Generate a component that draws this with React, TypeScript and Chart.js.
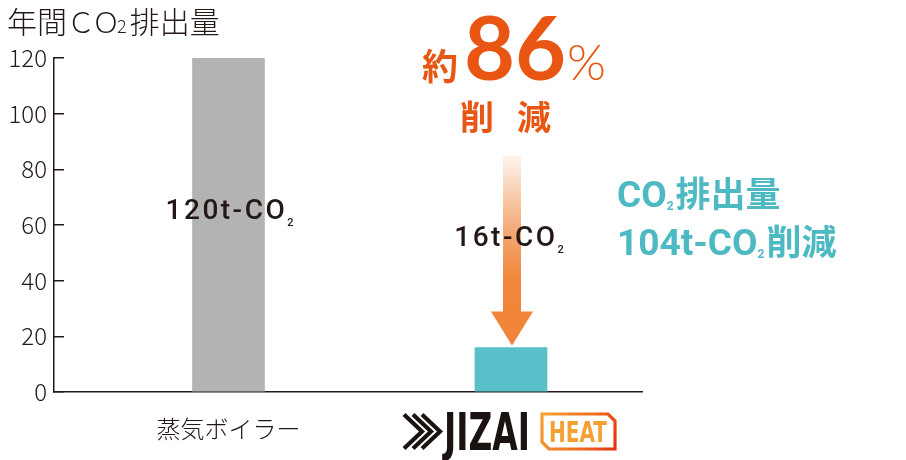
import { useEffect, useRef } from 'react';
import { Chart, registerables } from 'chart.js';

Chart.register(...registerables);

// ---- data ----
const categories = ['蒸気ボイラー', 'JIZAI HEAT'];
const categoryPositions = [1, 2];
const emissions = [120, 16];
const barColors = ['#B3B3B3', '#59BFC9'];
const yTickStep = 20;
const yMax = 120;
const unitText = 't-CO';

// ---- styles ----
const DARK = '#231815';
const ORANGE = '#E95513';
const TEAL = '#4CB9C3';
const JP = '"Noto Sans CJK JP", sans-serif';
const DIN = 'Roboto, "Noto Sans CJK JP", sans-serif';
const ROUND = 'Lato, "Noto Sans", sans-serif';
const NARROW = '"Liberation Sans Narrow", "DejaVu Sans Condensed", sans-serif';

type Run = { text: string; font: string; color: string; dy?: number; ls?: number; gap?: number };

function runsWidth(ctx: any, runs: Run[]) {
  let w = 0;
  for (const r of runs) {
    ctx.font = r.font;
    ctx.letterSpacing = (r.ls || 0) + 'px';
    w += ctx.measureText(r.text).width + (r.gap || 0);
  }
  return w;
}

function drawRuns(ctx: any, runs: Run[], x: number, y: number, align: 'left' | 'center') {
  ctx.save();
  ctx.textBaseline = 'alphabetic';
  ctx.textAlign = 'left';
  let cx = align === 'center' ? x - runsWidth(ctx, runs) / 2 : x;
  for (const r of runs) {
    ctx.font = r.font;
    ctx.letterSpacing = (r.ls || 0) + 'px';
    ctx.fillStyle = r.color;
    ctx.fillText(r.text, cx, y + (r.dy || 0));
    cx += ctx.measureText(r.text).width + (r.gap || 0);
  }
  ctx.letterSpacing = '0px';
  ctx.restore();
}

function fitText(ctx: any, text: string, font: string, fill: any, left: number, baseline: number, width: number) {
  ctx.save();
  ctx.font = font;
  ctx.textAlign = 'left';
  ctx.textBaseline = 'alphabetic';
  const w = ctx.measureText(text).width;
  ctx.translate(left, baseline);
  ctx.scale(width / w, 1);
  ctx.fillStyle = fill;
  ctx.fillText(text, 0, 0);
  ctx.restore();
}

function drawLogo(ctx: any, cx: number, top: number) {
  // chevron icon
  ctx.save();
  ctx.strokeStyle = '#1A1311';
  ctx.lineWidth = 4.2;
  ctx.lineJoin = 'miter';
  const apexY = top + 18.5;
  for (let i = 0; i < 3; i++) {
    const ax = cx - 71 - (2 - i) * 9;
    ctx.beginPath();
    ctx.moveTo(ax - 18, apexY - 17);
    ctx.lineTo(ax, apexY);
    ctx.lineTo(ax - 18, apexY + 17);
    ctx.stroke();
  }
  ctx.restore();
  // JIZAI
  fitText(ctx, 'JIZAI', `bold 51px ${NARROW}`, '#1A1311', cx - 67, top + 37, 86);
  // HEAT box
  const L = cx + 31, R = cx + 104, T = top + 1, B = top + 36;
  const g = ctx.createLinearGradient(L, T, R, B);
  g.addColorStop(0, '#F5A032');
  g.addColorStop(0.6, '#EE6A1E');
  g.addColorStop(1, '#E6330F');
  ctx.save();
  ctx.strokeStyle = g;
  ctx.lineWidth = 3.2;
  ctx.lineJoin = 'miter';
  ctx.beginPath();
  ctx.moveTo(L, T);
  ctx.lineTo(R - 7, T);
  ctx.lineTo(R, T + 7);
  ctx.lineTo(R, B);
  ctx.lineTo(L + 7, B);
  ctx.lineTo(L, B - 7);
  ctx.closePath();
  ctx.stroke();
  ctx.restore();
  fitText(ctx, 'HEAT', `bold 29px ${NARROW}`, g, L + 7, B - 7, 58);
}

const annotations = {
  id: 'annotations',
  afterDatasetsDraw(chart: any) {
    const { ctx, scales } = chart;
    const xs = scales.x;
    const ys = scales.y;
    const x0 = xs.getPixelForValue(categoryPositions[0]);
    const x1 = xs.getPixelForValue(categoryPositions[1]);
    const top1 = ys.getPixelForValue(emissions[1]);
    const reduction = emissions[0] - emissions[1];
    const pct = Math.floor((reduction / emissions[0]) * 100);

    // title
    drawRuns(ctx, [
      { text: '年間', font: `300 30px ${JP}`, color: DARK },
      { text: 'ＣＯ', font: `300 28px ${JP}`, color: DARK, ls: -3 },
      { text: '2', font: `300 18px ${JP}`, color: DARK, gap: 3 },
      { text: '排出量', font: `300 30px ${JP}`, color: DARK },
    ], 7, 33, 'left');

    // arrow
    const shaftTop = ys.getPixelForValue(85);
    const tipY = top1 - 2;
    const headH = 34, headW = 42, shaftW = 18;
    ctx.save();
    const g = ctx.createLinearGradient(0, shaftTop, 0, tipY - headH);
    g.addColorStop(0, '#FFF5EE');
    g.addColorStop(0.45, '#F5AC7C');
    g.addColorStop(0.8, '#F08738');
    g.addColorStop(1, '#F08537');
    ctx.fillStyle = g;
    ctx.fillRect(x1 - shaftW / 2 + 1, shaftTop, shaftW, tipY - headH - shaftTop + 1);
    ctx.fillStyle = '#F08537';
    ctx.beginPath();
    ctx.moveTo(x1 - headW / 2 + 1, tipY - headH);
    ctx.lineTo(x1 + headW / 2 + 1, tipY - headH);
    ctx.lineTo(x1 + 1, tipY);
    ctx.closePath();
    ctx.fill();
    ctx.restore();

    // bar value labels
    const valFont = `500 28px ${DIN}`;
    const subFont = `500 11px ${DIN}`;
    drawRuns(ctx, [
      { text: emissions[0] + unitText, font: valFont, color: DARK, ls: 2.5 },
      { text: '2', font: subFont, color: DARK, dy: 7 },
    ], x0 + 1, ys.getPixelForValue(62), 'center');
    drawRuns(ctx, [
      { text: emissions[1] + unitText, font: valFont, color: DARK, ls: 2.5 },
      { text: '2', font: subFont, color: DARK, dy: 7 },
    ], x1 - 2, ys.getPixelForValue(52.5), 'center');

    // 約86% 削減
    drawRuns(ctx, [
      { text: '約', font: `bold 36px ${JP}`, color: ORANGE, gap: 6 },
      { text: String(pct), font: `bold 88px ${ROUND}`, color: ORANGE, gap: 1 },
      { text: '%', font: `300 50px ${ROUND}`, color: ORANGE },
    ], x1 - 89, 80, 'left');
    ctx.save();
    ctx.font = `bold 34px ${JP}`;
    ctx.fillStyle = ORANGE;
    ctx.textAlign = 'center';
    ctx.textBaseline = 'alphabetic';
    ctx.fillText('削', x1 - 34, 130);
    ctx.fillText('減', x1 + 23, 130);
    ctx.restore();

    // teal note
    const tl = x1 + 106;
    drawRuns(ctx, [
      { text: 'CO', font: `bold 37px ${DIN}`, color: TEAL },
      { text: '2', font: `bold 12px ${DIN}`, color: TEAL, dy: 3, gap: 2 },
      { text: '排出量', font: `bold 35px ${JP}`, color: TEAL },
    ], tl, 207, 'left');
    drawRuns(ctx, [
      { text: reduction + unitText, font: `bold 37px ${DIN}`, color: TEAL },
      { text: '2', font: `bold 12px ${DIN}`, color: TEAL, dy: 3, gap: 2 },
      { text: '削減', font: `bold 35px ${JP}`, color: TEAL },
    ], tl, 255, 'left');

    // JIZAI HEAT logo (second category label)
    drawLogo(ctx, x1, chart.chartArea.bottom + 21);
  },
};

export default function App() {
  const ref = useRef<HTMLCanvasElement>(null);
  useEffect(() => {
    if (!ref.current) return;
    const chart = new Chart(ref.current, {
      type: 'bar',
      data: {
        datasets: [
          {
            data: categoryPositions.map((p, i) => ({ x: p, y: emissions[i] })),
            backgroundColor: barColors,
            barThickness: 72,
            borderWidth: 0,
          },
        ],
      },
      options: {
        animation: false,
        responsive: true,
        maintainAspectRatio: false,
        layout: { padding: { top: 58, right: 264, bottom: 0, left: 0 } },
        plugins: { legend: { display: false }, tooltip: { enabled: false }, title: { display: false } },
        scales: {
          x: {
            type: 'linear',
            offset: false,
            min: 0.3823,
            max: 2.4637,
            afterBuildTicks: (s: any) => {
              s.ticks = categoryPositions.map((v) => ({ value: v }));
            },
            ticks: {
              callback: (v: any) => (v === categoryPositions[0] ? categories[0] : ''),
              color: DARK,
              font: { family: JP, size: 24, weight: '300' },
              padding: 22,
              maxRotation: 0,
              autoSkip: false,
            },
            grid: { display: false, drawTicks: false, offset: false },
            border: { display: true, color: DARK, width: 1.5 },
            afterFit: (s: any) => {
              s.height = 68;
            },
          },
          y: {
            min: 0,
            max: yMax,
            ticks: {
              stepSize: yTickStep,
              color: DARK,
              font: { family: JP, size: 24, weight: '300' },
              padding: 17,
            },
            grid: { drawOnChartArea: false, drawTicks: true, tickLength: -10, color: DARK, lineWidth: 1.5 },
            border: { display: true, color: DARK, width: 1.5 },
            afterFit: (s: any) => {
              s.width = 54;
            },
          },
        },
      } as any,
      plugins: [annotations],
    });
    return () => chart.destroy();
  }, []);
  return (
    <div style={{ position: 'fixed', left: 0, top: 0, width: 906, height: 460, background: '#fff' }}>
      <canvas ref={ref} />
    </div>
  );
}
